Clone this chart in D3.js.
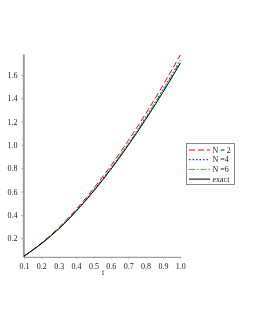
<!DOCTYPE html>
<html>
<head>
<meta charset="utf-8">
<script src="https://cdn.jsdelivr.net/npm/d3@7"></script>
<style>
  body { margin: 0; background: #fff; }
  svg { transform: translateZ(0); will-change: transform; }
  text { font-family: "Liberation Serif", "DejaVu Serif", serif; }
</style>
</head>
<body>
<div id="chart"></div>
<script>
// valores
const tValues = [0.1, 0.2, 0.3, 0.4, 0.5, 0.6, 0.7, 0.8, 0.9, 1.0];
const n2 = [0.045, 0.158, 0.290, 0.447, 0.625, 0.822, 1.036, 1.266, 1.511, 1.772];
const n4 = [0.045, 0.155, 0.284, 0.437, 0.611, 0.803, 1.012, 1.237, 1.476, 1.728];
const n6 = [0.045, 0.154, 0.282, 0.434, 0.607, 0.797, 1.005, 1.228, 1.465, 1.714];
const exact = [0.045, 0.152, 0.279, 0.430, 0.601, 0.790, 0.996, 1.217, 1.452, 1.700];
const xTicks = [0.1, 0.2, 0.3, 0.4, 0.5, 0.6, 0.7, 0.8, 0.9, 1.0];
const yTicks = [0.2, 0.4, 0.6, 0.8, 1.0, 1.2, 1.4, 1.6];
const seriesNames = ["N = 2", "N =4", "N =6", "exact"];

const series = [
  {name: seriesNames[0], values: n2, color: "#ff0000", dash: "6,3"},
  {name: seriesNames[1], values: n4, color: "#0000ff", dash: "1.5,2"},
  {name: seriesNames[2], values: n6, color: "#00e000", dash: "6,2,1.5,2"},
  {name: seriesNames[3], values: exact, color: "#000000", dash: null}
];

const svg = d3.select("#chart")
  .append("svg")
  .attr("width", 255)
  .attr("height", 330);

const x = d3.scaleLinear().domain([0.1, 1.0]).range([24, 180.3]);
const y = d3.scaleLinear().domain([0.04, 1.78]).range([256.8, 54]);

// eixo x
const xAxis = svg.append("g")
  .attr("transform", `translate(0,${y(0.04)})`)
  .call(d3.axisBottom(x).tickValues(xTicks).tickFormat(d3.format(".1f")).tickSize(2).tickSizeOuter(0));
xAxis.select(".domain").attr("stroke", "#888").attr("stroke-width", 1);
xAxis.selectAll(".tick line").attr("stroke", "#aaa");
xAxis.selectAll("text").attr("font-size", 8).attr("dy", "0.9em").attr("fill", "#222")
  .style("font-family", "Liberation Serif");

// eixo y
const yAxis = svg.append("g")
  .attr("transform", `translate(${x(0.1) - 0.7},0)`)
  .call(d3.axisLeft(y).tickValues(yTicks).tickFormat(d3.format(".1f")).tickSize(2).tickSizeOuter(0));
yAxis.select(".domain").attr("stroke", "#999").attr("stroke-width", 2);
yAxis.selectAll(".tick line").attr("stroke", "#aaa");
yAxis.selectAll("text").attr("font-size", 8).attr("fill", "#222").attr("dx", "-0.1em")
  .style("font-family", "Liberation Serif");

// rótulo do eixo
svg.append("text")
  .attr("x", 103)
  .attr("y", 275)
  .attr("text-anchor", "middle")
  .attr("font-size", 8)
  .attr("fill", "#222")
  .text("t");

// curvas
const line = d3.line()
  .x((d, i) => x(tValues[i]))
  .y(d => y(d))
  .curve(d3.curveMonotoneX);

svg.selectAll("path.serie")
  .data(series)
  .join("path")
  .attr("class", "serie")
  .attr("d", d => line(d.values))
  .attr("fill", "none")
  .attr("stroke", d => d.color)
  .attr("stroke-width", 1)
  .attr("stroke-dasharray", d => d.dash);

// legenda
const legend = svg.append("g");
legend.append("rect")
  .attr("x", 186.5)
  .attr("y", 143.5)
  .attr("width", 48)
  .attr("height", 41)
  .attr("fill", "#fff")
  .attr("stroke", "#888")
  .attr("stroke-width", 1);

const items = legend.selectAll("g.item")
  .data(series)
  .join("g")
  .attr("class", "item")
  .attr("transform", (d, i) => `translate(0,${150 + i * 9.7})`);

items.append("line")
  .attr("x1", 189)
  .attr("x2", 210)
  .attr("stroke", d => d.color)
  .attr("stroke-width", 1)
  .attr("stroke-dasharray", d => d.dash);

items.append("text")
  .attr("x", 212.5)
  .attr("dy", "0.33em")
  .attr("font-size", 8)
  .attr("fill", "#222")
  .text(d => d.name);
</script>
</body>
</html>
